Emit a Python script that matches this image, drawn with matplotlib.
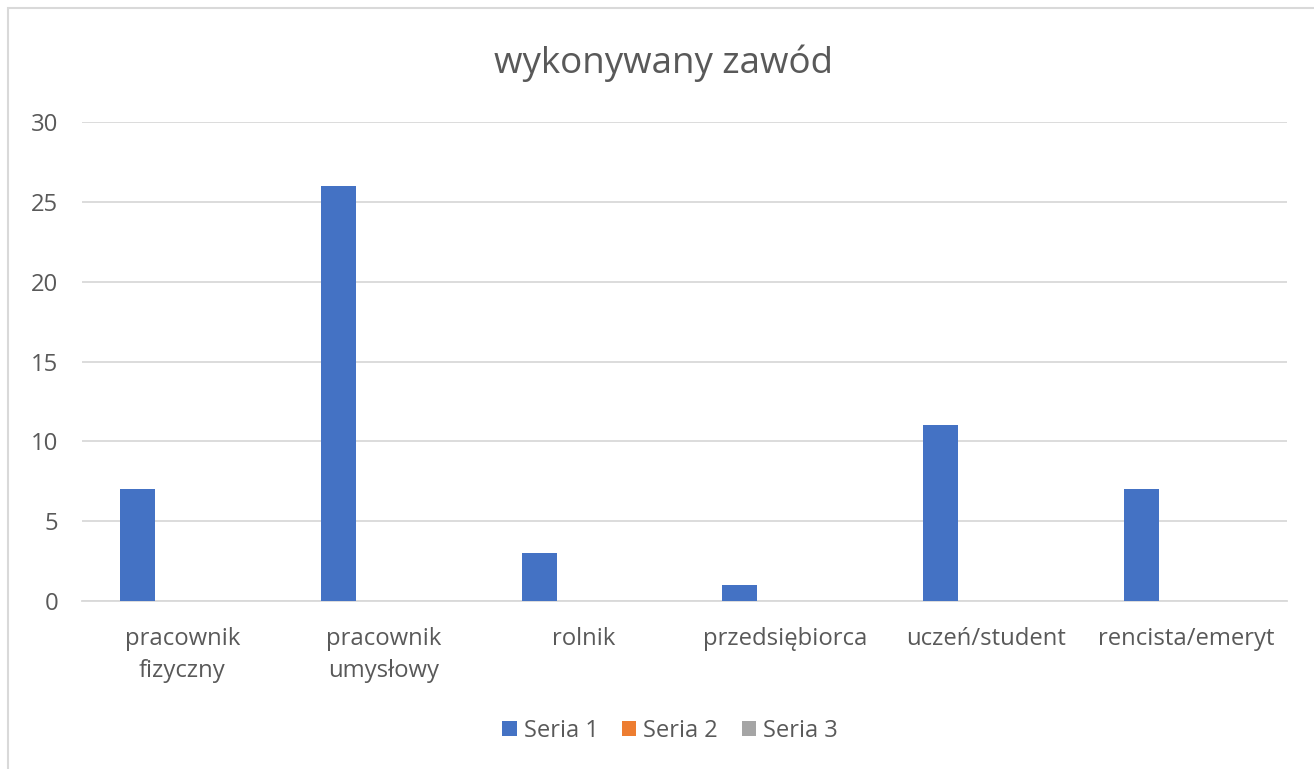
import matplotlib
matplotlib.use("Agg")
import matplotlib.pyplot as plt
from matplotlib.patches import Rectangle
import numpy as np

categories = ["pracownik\nfizyczny", "pracownik\numysłowy", "rolnik",
              "przedsiębiorca", "uczeń/student", "rencista/emeryt"]
series_names = ["Seria 1", "Seria 2", "Seria 3"]
seria1 = [7, 26, 3, 1, 11, 7]
seria2 = [0, 0, 0, 0, 0, 0]
seria3 = [0, 0, 0, 0, 0, 0]
yticks = [0, 5, 10, 15, 20, 25, 30]

colors = ["#4472c4", "#ed7d31", "#a5a5a5"]
text_color = "#595959"
plt.rcParams['font.family'] = ['Open Sans', 'DejaVu Sans']

W, H = 1314, 769
fig = plt.figure(figsize=(W/100, H/100), dpi=100)
fig.patches.append(Rectangle((8/W, -0.01), 1.0, 1 - 8/H + 0.01, transform=fig.transFigure,
                             fill=False, edgecolor="#d9d9d9", linewidth=1.5))
ax = fig.add_axes([82/W, 1 - 601/H, (1287-82)/W, (601-122)/H])

x = np.arange(len(categories))
bw = 0.174
offsets = [-0.224, -0.05, 0.124]
for vals, name, c, off in zip([seria1, seria2, seria3], series_names, colors, offsets):
    ax.bar(x + off, vals, width=bw, color=c, label=name, zorder=3)

ax.set_xlim(-0.5, len(categories) - 0.5)
ax.set_ylim(0, 30)
ax.set_yticks(yticks)
ax.yaxis.grid(True, color="#d9d9d9", linewidth=1.3, zorder=0)
for s in ["top", "right", "left"]:
    ax.spines[s].set_visible(False)
ax.spines["bottom"].set_color("#d9d9d9")
ax.spines["bottom"].set_linewidth(1.3)
ax.tick_params(axis="both", length=0, colors=text_color, labelsize=17.2)
ax.tick_params(axis="y", pad=17)
ax.tick_params(axis="x", pad=18.5)
ax.set_xticks(x)
ax.set_xticklabels(categories, linespacing=1.45)

fig.text(664/W, 1 - 63/H, "wykonywany zawód", ha="center", va="center",
         fontsize=26.5, color=text_color)

leg = fig.legend(loc="center", bbox_to_anchor=(670/W, 1 - 731/H), ncol=3, frameon=False,
                 fontsize=17, handlelength=0.6, handleheight=0.6, handletextpad=0.3,
                 columnspacing=1.0)
for t in leg.get_texts():
    t.set_color(text_color)

fig.savefig("out.png", dpi=100, facecolor="white")
